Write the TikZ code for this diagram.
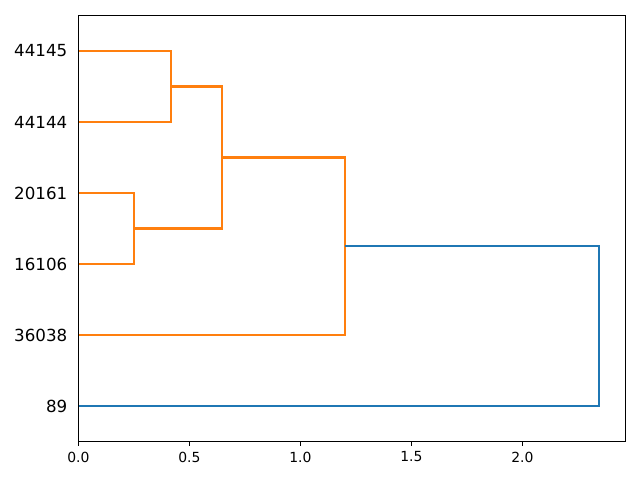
\documentclass[tikz,border=0pt]{standalone}
\usepackage{fontspec}
\setmainfont{DejaVu Sans}
\usepackage{xcolor}
\definecolor{mplorange}{HTML}{FF7F0E}
\definecolor{mplblue}{HTML}{1F77B4}

\begin{document}
\begin{tikzpicture}[
    orangelink/.style={mplorange, line width=1.48pt},
    bluelink/.style={mplblue, line width=1.48pt},
    leaflabel/.style={anchor=east, inner sep=0pt, font=\fontsize{11.85}{14}\selectfont},
    ticklabel/.style={anchor=north, inner sep=0pt, font=\fontsize{9.9}{12}\selectfont}
]
    \useasboundingbox (0,0) rectangle (16,12);
    \begin{scope}[shift={(1.958,1.85)}, x=5.55cm, y=1.775cm]
        % Leaves
        \foreach \i/\name in {0/89, 1/36038, 2/16106, 3/20161, 4/44144, 5/44145} {
            \coordinate (l\i) at (0,\i);
            \node[leaflabel] (n\name) at ([xshift=-0.27cm]l\i) {\name};
        }

        % Merge points
        \coordinate (m1) at (0.4176,4.5);
        \coordinate (m2) at (0.251,2.5);
        \coordinate (m3) at (0.647,3.5);
        \coordinate (m4) at (1.201,2.25);
        \coordinate (m5) at (2.345,1.125);

        % Links
        \draw[orangelink] (l5) -| (m1) |- (l4);
        \draw[orangelink] (l3) -| (m2) |- (l2);
        \draw[orangelink] (m1) -| (m3) |- (m2);
        \draw[orangelink] (m3) -| (m4) |- (l1);
        \draw[bluelink] (m4) -| (m5) |- (l0);

        % Axes frame
        \draw[line width=0.79pt, line cap=rect] (0,-0.5) rectangle (2.4640,5.5);

        % Ticks on the x axis
        \foreach \k/\x/\lab in {0/0/0.0, 1/0.5/0.5, 2/1/1.0, 3/1.5/1.5, 4/2/2.0} {
            \draw[line width=0.79pt] (\x,-0.5) -- ++(0,-0.1215cm) coordinate (t\k);
            \node[ticklabel] (tl\k) at ([yshift=-0.13cm]t\k) {\lab};
        }
    \end{scope}
\end{tikzpicture}
\end{document}
